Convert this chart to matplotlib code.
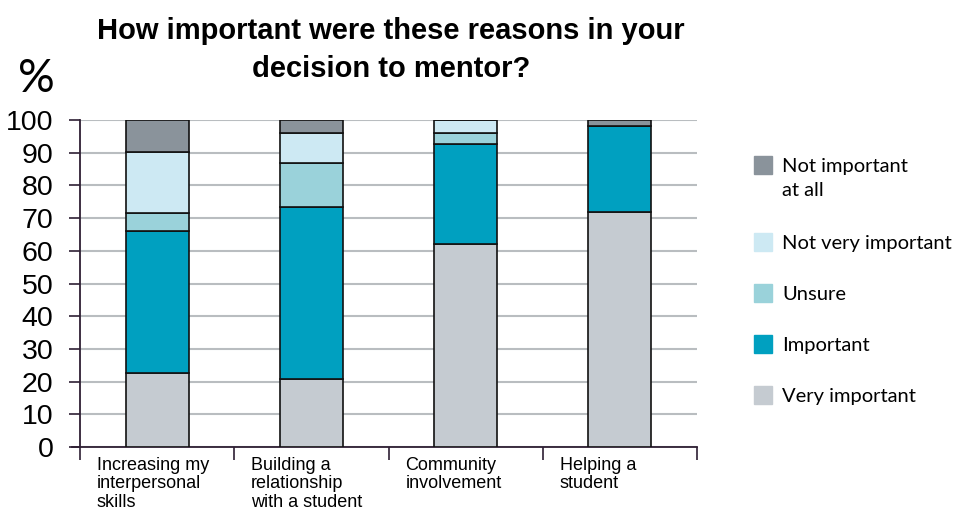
import numpy as np
import matplotlib
matplotlib.use("Agg")
import matplotlib.pyplot as plt
from matplotlib.patches import Rectangle

# survey answers, % of mentors per reason
reasons = ["Increasing my\ninterpersonal\nskills",
           "Building a\nrelationship\nwith a student",
           "Community\ninvolvement",
           "Helping a\nstudent"]

very_important = [22.6, 20.8, 62.1, 71.9]
important = [43.5, 52.6, 30.6, 26.3]
unsure = [5.5, 13.5, 3.3, 0.0]
not_very_important = [18.6, 9.1, 4.0, 0.0]
not_important_at_all = [9.8, 4.0, 0.0, 1.8]

series_names = ["Very important", "Important", "Unsure",
                "Not very important", "Not important at all"]
legend_labels = ["Very important", "Important", "Unsure",
                 "Not very important", "Not important\nat all"]
colors = ["#c5cbd1", "#00a0c0", "#9ad2da", "#cde9f3", "#8a939b"]

yticks = np.arange(0, 101, 10)

NARROW = ["Liberation Sans Narrow", "Liberation Sans", "DejaVu Sans"]
spine_col = "#2e1f33"

fig = plt.figure(figsize=(9.55, 5.11), dpi=100)
ax = fig.add_axes([80 / 955, 64 / 511, 617 / 955, 327 / 511])

x = np.arange(len(reasons))
stack = [very_important, important, unsure, not_very_important, not_important_at_all]
bottom = np.zeros(len(reasons))
for vals, col in zip(stack, colors):
    vals = np.array(vals)
    ax.bar(x, vals, width=0.41, bottom=bottom, color=col,
           edgecolor="#111111", linewidth=1.2, zorder=3)
    bottom += vals

ax.set_xlim(-0.5, 3.5)
ax.set_ylim(0, 100)
ax.set_yticks(yticks)
ax.set_yticklabels([str(v) for v in yticks], fontsize=20.5, family=NARROW)
ax.yaxis.grid(True, color="#b9bdc0", linewidth=1.5, zorder=0)
ax.tick_params(axis="y", length=8, width=1.2, color=spine_col, pad=11)

# category boundaries get the tick marks, names sit to the right of them
ax.set_xticks(np.arange(-0.5, 3.6, 1.0))
ax.set_xticklabels([])
ax.tick_params(axis="x", length=9, width=1.2, color=spine_col)
for i, name in enumerate(reasons):
    ax.text(i - 0.5 + 0.11, -0.03, name, transform=ax.get_xaxis_transform(),
            ha="left", va="top", fontsize=13, family=NARROW, linespacing=1.12)

for side in ["top", "right"]:
    ax.spines[side].set_visible(False)
for side in ["left", "bottom"]:
    ax.spines[side].set_color(spine_col)
    ax.spines[side].set_linewidth(1.3)
ax.spines["bottom"].set_bounds(-0.5 - 8 / 154, 3.5)

fig.text(391 / 955, 1 - 17 / 511,
         "How important were these reasons in your\ndecision to mentor?",
         ha="center", va="top", fontsize=21, fontweight="bold",
         family=NARROW, linespacing=1.45)
fig.text(36 / 955, 1 - 79 / 511, "%", ha="center", va="center",
         fontsize=33, family=["Lato", "DejaVu Sans"])

# legend, top entry first
key_y = [395, 344, 293, 242, 165]
for lab, col, ky in zip(legend_labels, colors, key_y):
    fig.patches.append(Rectangle((754 / 955, 1 - (ky + 9) / 511), 18 / 955, 18 / 511,
                                 transform=fig.transFigure, color=col))
    fig.text(782 / 955, 1 - (ky - 7) / 511, lab, ha="left", va="top",
             fontsize=14.5, family=["Lato", "DejaVu Sans"], linespacing=1.5)

fig.savefig("out.png", dpi=100)
